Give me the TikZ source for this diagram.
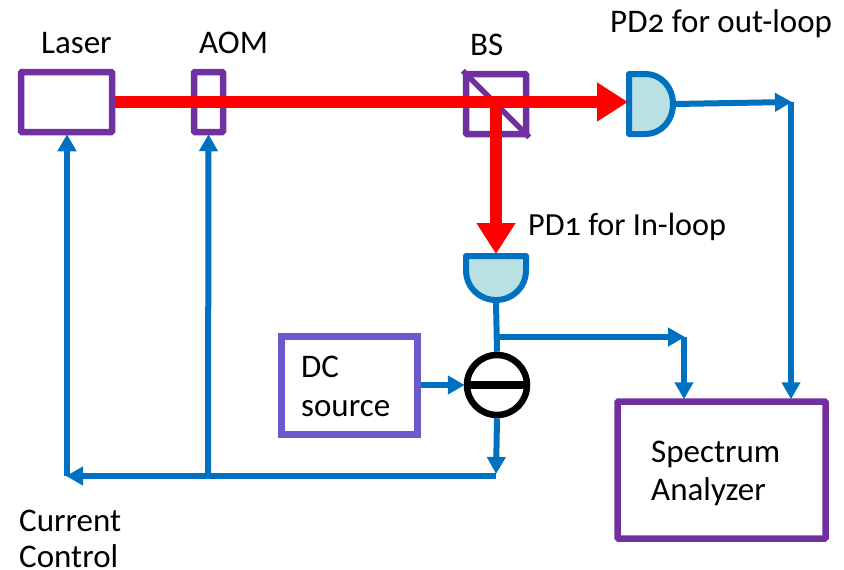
\documentclass[tikz,border=0pt]{standalone}
\usepackage{fontspec}
\setmainfont[Numbers=OldStyle]{Carlito}
\usetikzlibrary{arrows.meta}
\definecolor{pur}{HTML}{7030A0}
\definecolor{blu}{HTML}{0070C0}
\definecolor{dcb}{HTML}{6A5ACD}
\definecolor{pdf}{HTML}{B9E0E3}
\tikzset{x=1pt,y=-1pt,
  box/.style={draw=pur,line width=6.5pt,rounded corners=1pt,inner sep=0pt},
  lab/.style={font=\fontsize{33}{38}\selectfont,inner sep=0pt,anchor=base west,align=left},
  wire/.style={draw=blu,line width=6pt},
  warrow/.style={wire,-{Triangle[length=17pt,width=18pt]},shorten >=-1pt},
  beam/.style={draw=red,line width=12pt},
  barrow/.style={beam,-{Triangle[length=31pt,width=37pt]}},
  pd/.style={draw=blu,line width=6pt,fill=pdf,line join=round}}
\begin{document}
\begin{tikzpicture}
\useasboundingbox (0,0) rectangle (844,570);
\node[box,minimum width=91pt,minimum height=60pt] (laser) at (66.5,102) {};
\node[box,minimum width=29pt,minimum height=60pt] (aom) at (208.5,102) {};
\node[box,minimum width=60pt,minimum height=60pt] (bs) at (496,104) {};
\draw[draw=pur,line width=5.5pt] (bs.north west) -- (bs.south east);
\coordinate (pd2in) at (628,102);
\path[pd] (629,74) -- (645,74) .. controls (662,74) and (673,88) .. (673,104) .. controls (673,120) and (662,134) .. (645,134) -- (629,134) -- cycle;
\coordinate (pd2out) at (675,104);
\path[pd] (466,256) -- (526,256) -- (526,270) .. controls (526,288) and (512,300) .. (496,300) .. controls (480,300) and (466,288) .. (466,270) -- cycle;
\coordinate (pd1in) at (496,254);
\coordinate (pd1out) at (496,302);
\draw[beam] (laser.east) -- (600,102);
\draw[barrow] (570,102) -- (pd2in);
\draw[barrow] (496,102) -- (pd1in);
\node[draw=black,line width=6.5pt,circle,minimum size=60pt,inner sep=0pt,fill=white] (sub) at (497,385) {};
\draw[draw=black,line width=8pt] (sub.west) -- (sub.east);
\node[draw=dcb,line width=7pt,minimum width=136pt,minimum height=98pt,inner sep=0pt] (dc) at (349,385) {};
\node[box,minimum width=208pt,minimum height=137pt] (sa) at (721.5,470) {};
\coordinate (c2) at (791,102);
\coordinate (c1) at (684,337);
\coordinate (j) at (496,337);
\coordinate (e) at (496,476);
\coordinate (l) at (67,476);
\coordinate (a) at (208,476);
\draw[warrow] (pd2out) -- (c2);
\draw[warrow] (c2) -- (c2 |- sa.north);
\draw[wire] (pd1out) -- (sub.north);
\draw[warrow] (j) -- (c1);
\draw[warrow] (c1) -- (c1 |- sa.north);
\draw[warrow] (dc.east) -- (sub.west);
\draw[warrow,shorten >=2pt] (sub.south) -- (e);
\draw[warrow] (e) -- (l);
\draw[warrow] (l) -- (laser.south -| l);
\draw[warrow] (a) -- (aom.south);
\node[lab] (t1) at (41,53) {Laser};
\node[lab] (t2) at (199,53) {AOM};
\node[lab] (t3) at (470,55) {BS};
\node[lab] (t4) at (610,32) {PD2 for out-loop};
\node[lab,font=\fontsize{32.2}{38}\selectfont] (t5) at (528,235) {PD1 for In-loop};
\node[lab] (t6) at (301,377) {DC};
\node[lab] (t7) at (301,416) {source};
\node[lab] (t8) at (651,462) {Spectrum};
\node[lab] (t9) at (651,500) {Analyzer};
\node[lab] (t10) at (19,531) {Current};
\node[lab] (t11) at (19,567) {Control};
\end{tikzpicture}
\end{document}
